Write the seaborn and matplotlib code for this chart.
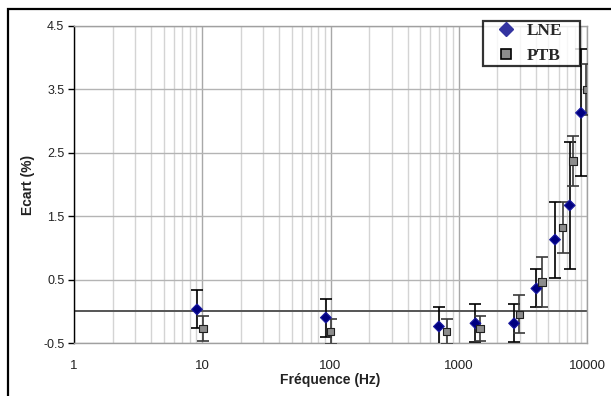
import numpy as np
import pandas as pd
import matplotlib
matplotlib.use('Agg')
import matplotlib.pyplot as plt
import seaborn as sns
from matplotlib.lines import Line2D
from matplotlib.patches import Rectangle
from matplotlib.ticker import FixedLocator, LogLocator, NullFormatter

# values
lne_freq = [9.1, 92, 700, 1350, 2700, 4030, 5630, 7330, 8980]
lne_ecart = [0.03, -0.10, -0.24, -0.19, -0.19, 0.36, 1.13, 1.67, 3.13]
lne_err = [0.30, 0.30, 0.30, 0.30, 0.30, 0.30, 0.60, 1.00, 1.00]

ptb_freq = [10.1, 100, 805, 1470, 2970, 4440, 6460, 7780, 9880]
ptb_ecart = [-0.27, -0.32, -0.32, -0.27, -0.05, 0.46, 1.32, 2.37, 3.50]
ptb_err = [0.20, 0.20, 0.20, 0.20, 0.30, 0.40, 0.40, 0.40, 0.40]

y_ticks = [-0.5, 0.5, 1.5, 2.5, 3.5, 4.5]
x_ticks = [1, 10, 100, 1000, 10000]
x_labels = ['1', '10', '100', '1000', '10000']

df = pd.DataFrame({
    'freq': lne_freq + ptb_freq,
    'ecart': lne_ecart + ptb_ecart,
    'err': lne_err + ptb_err,
    'labo': ['LNE'] * len(lne_freq) + ['PTB'] * len(ptb_freq),
})

sns.set_theme(style='white')
plt.rcParams['font.family'] = ['Liberation Sans', 'DejaVu Sans']

fig = plt.figure(figsize=(6.11, 3.96), dpi=100)
ax = fig.add_axes([74 / 611, 53 / 396, 513 / 611, 317 / 396])

# outer frame of the chart area
fig.patches.append(Rectangle((8 / 611, -0.1), 1.2, (396 - 9) / 396 + 0.1,
                             transform=fig.transFigure, fill=False,
                             edgecolor='black', linewidth=1.6, zorder=0))

ax.set_xscale('log')
ax.set_xlim(1, 10000)
ax.set_ylim(-0.5, 4.5)

# grid
ax.xaxis.set_major_locator(FixedLocator(x_ticks))
ax.xaxis.set_minor_locator(LogLocator(base=10, subs=np.arange(2, 10)))
ax.xaxis.set_minor_formatter(NullFormatter())
ax.set_xticks(x_ticks)
ax.set_xticklabels(x_labels)
ax.set_yticks(y_ticks)
ax.set_yticklabels([str(v) for v in y_ticks])
ax.grid(which='major', axis='x', color='#a8a8a8', linewidth=1.0)
ax.grid(which='minor', axis='x', color='#d4d4d4', linewidth=1.0)
ax.grid(which='major', axis='y', color='#b4b4b4', linewidth=1.0)
ax.set_axisbelow(True)
ax.axhline(0, color='#555555', linewidth=1.4, zorder=1)

for side in ['top', 'right', 'bottom']:
    ax.spines[side].set_color('#a0a0a0')
    ax.spines[side].set_linewidth(1.0)
ax.spines['left'].set_color('black')
ax.spines['left'].set_linewidth(1.0)

ax.tick_params(axis='y', which='major', left=True, length=4, width=1,
               color='black', labelsize=9, pad=3, labelcolor='#222222')
ax.tick_params(axis='x', which='both', bottom=False, labelsize=9.5, pad=6,
               labelcolor='#222222')

# error bars
lne = df[df['labo'] == 'LNE']
ptb = df[df['labo'] == 'PTB']
ax.errorbar(lne['freq'], lne['ecart'], yerr=lne['err'], fmt='none',
            ecolor='black', elinewidth=1.2, capsize=4, capthick=1.2, zorder=3)
ax.errorbar(ptb['freq'], ptb['ecart'], yerr=ptb['err'], fmt='none',
            ecolor='#3a3a3a', elinewidth=1.2, capsize=4, capthick=1.2, zorder=3)

sns.scatterplot(data=df, x='freq', y='ecart', hue='labo', style='labo',
                markers={'LNE': 'D', 'PTB': 's'},
                palette={'LNE': '#000080', 'PTB': '#8c8c8c'},
                s=30, linewidth=0.8, edgecolor=['#1a1aa0'] * len(lne_freq) + ['#202020'] * len(ptb_freq),
                legend=False, ax=ax, zorder=4)

ax.set_xlabel('Fréquence (Hz)', fontsize=10, fontweight='bold', labelpad=1, color='#222222')
ax.set_ylabel('Ecart (%)', fontsize=10, fontweight='bold', labelpad=6, color='#222222')

handles = [
    Line2D([], [], linestyle='none', marker='D', markersize=7.5,
           markerfacecolor='#3333a0', markeredgecolor='#3333a0'),
    Line2D([], [], linestyle='none', marker='s', markersize=7.5,
           markerfacecolor='#8c8c8c', markeredgecolor='black', markeredgewidth=1.2),
]
leg = fig.legend(handles, ['LNE', 'PTB'], loc='center',
                 bbox_to_anchor=(483 / 611, 1 - 67 / 396, 97 / 611, 47 / 396),
                 mode='expand', frameon=True, fancybox=False, handletextpad=0.05,
                 borderpad=0.15, labelspacing=0.48, handlelength=2.3,
                 borderaxespad=0,
                 prop={'family': 'Liberation Serif', 'weight': 'bold', 'size': 12.5})
leg.get_frame().set_edgecolor('black')
leg.get_frame().set_linewidth(1.6)
leg.set_zorder(10)

fig.savefig('out.png', dpi=100)
